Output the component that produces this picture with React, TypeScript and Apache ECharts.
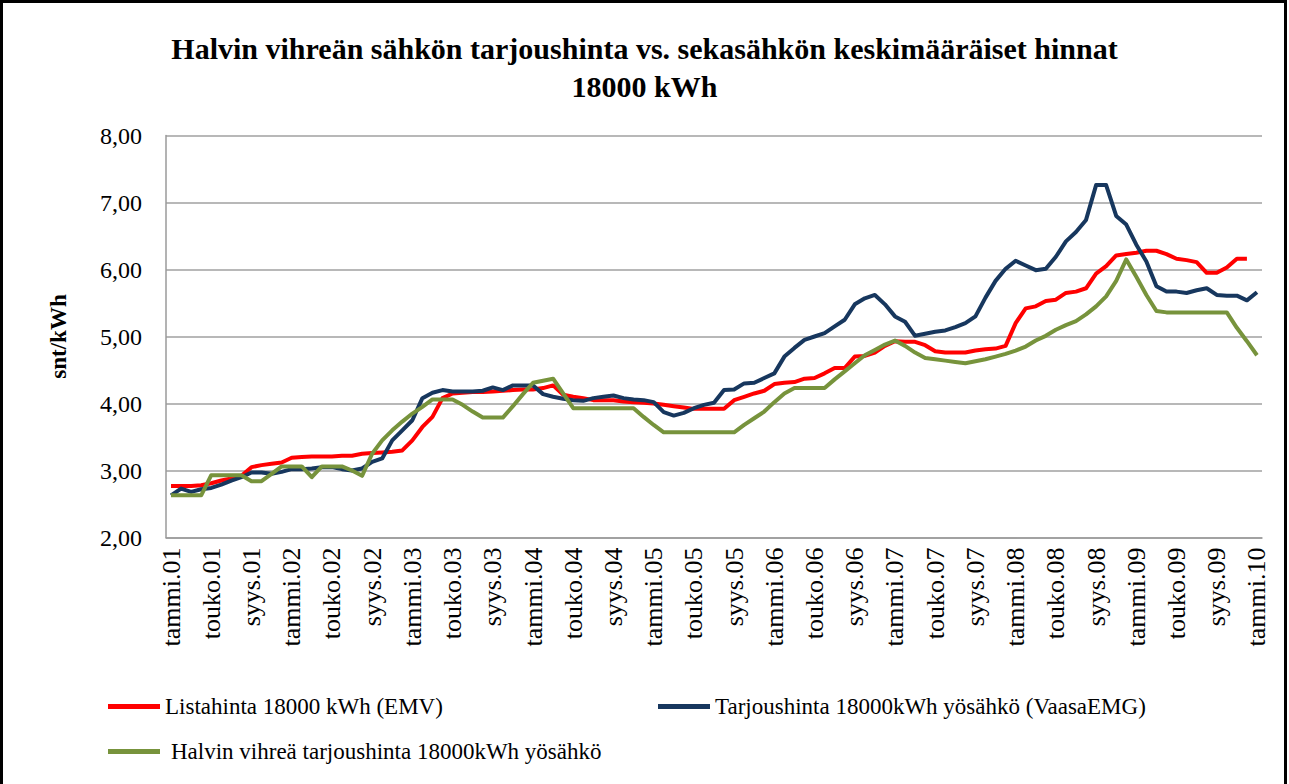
import React, { useEffect, useRef } from "react";
import * as echarts from "echarts";

const MONTHS = ["tammi", "helmi", "maalis", "huhti", "touko", "kesä", "heinä", "elo", "syys", "loka", "marras", "joulu"];
const YEARS = ["01", "02", "03", "04", "05", "06", "07", "08", "09", "10"];

const RED_NAME = "Listahinta 18000 kWh (EMV)";
const BLUE_NAME = "Tarjoushinta 18000kWh yösähkö (VaasaEMG)";
const GREEN_NAME = "Halvin vihreä tarjoushinta 18000kWh yösähkö";

const listahinta = [
  2.77, 2.77, 2.77, 2.78, 2.81, 2.85, 2.88, 2.92, 3.05, 3.08, 3.10, 3.12,
  3.19, 3.20, 3.21, 3.21, 3.21, 3.22, 3.22, 3.25, 3.26, 3.27, 3.28, 3.30,
  3.45, 3.65, 3.80, 4.08, 4.15, 4.16, 4.17, 4.17, 4.18, 4.19, 4.20, 4.21,
  4.21, 4.23, 4.27, 4.13, 4.10, 4.08, 4.05, 4.05, 4.05, 4.03, 4.02, 4.01,
  4.00, 3.98, 3.96, 3.94, 3.92, 3.92, 3.92, 3.92, 4.05, 4.10, 4.15, 4.19,
  4.29, 4.31, 4.32, 4.37, 4.38, 4.45, 4.53, 4.53, 4.70, 4.71, 4.76, 4.86,
  4.93, 4.92, 4.92, 4.87, 4.78, 4.76, 4.76, 4.76, 4.79, 4.81, 4.82, 4.86,
  5.20, 5.42, 5.45, 5.53, 5.55, 5.65, 5.67, 5.72, 5.94, 6.05, 6.21, 6.23,
  6.25, 6.28, 6.28, 6.23, 6.16, 6.14, 6.11, 5.95, 5.95, 6.03, 6.16, 6.16,
  null,
];

const tarjoushinta = [
  2.63, 2.73, 2.68, 2.72, 2.74, 2.79, 2.85, 2.90, 2.97, 2.97, 2.95, 2.98,
  3.02, 3.02, 3.03, 3.05, 3.05, 3.02, 3.00, 3.03, 3.13, 3.18, 3.45, 3.60,
  3.75, 4.08, 4.16, 4.20, 4.18, 4.18, 4.18, 4.19, 4.24, 4.20, 4.27, 4.27,
  4.27, 4.14, 4.10, 4.07, 4.05, 4.04, 4.08, 4.10, 4.12, 4.08, 4.06, 4.05,
  4.02, 3.87, 3.82, 3.86, 3.93, 3.98, 4.01, 4.20, 4.21, 4.30, 4.31, 4.38,
  4.45, 4.70, 4.83, 4.95, 5.00, 5.05, 5.15, 5.25, 5.48, 5.57, 5.62, 5.48,
  5.30, 5.22, 5.01, 5.04, 5.07, 5.09, 5.14, 5.20, 5.30, 5.58, 5.83, 6.01,
  6.13, 6.06, 5.99, 6.01, 6.19, 6.42, 6.56, 6.74, 7.26, 7.26, 6.80, 6.67,
  6.37, 6.12, 5.75, 5.67, 5.67, 5.65, 5.69, 5.72, 5.62, 5.61, 5.61, 5.54,
  5.66,
];

const vihrea = [
  2.63, 2.63, 2.63, 2.63, 2.93, 2.93, 2.93, 2.93, 2.84, 2.84, 2.95, 3.06,
  3.06, 3.06, 2.90, 3.06, 3.06, 3.06, 3.00, 2.92, 3.25, 3.45, 3.60, 3.73,
  3.85, 3.95, 4.06, 4.06, 4.06, 3.98, 3.88, 3.79, 3.79, 3.79, 3.96, 4.14,
  4.31, 4.34, 4.37, 4.15, 3.93, 3.93, 3.93, 3.93, 3.93, 3.93, 3.93, 3.80,
  3.68, 3.57, 3.57, 3.57, 3.57, 3.57, 3.57, 3.57, 3.57, 3.68, 3.78, 3.88,
  4.02, 4.15, 4.23, 4.23, 4.23, 4.23, 4.36, 4.48, 4.60, 4.72, 4.80, 4.88,
  4.94, 4.86, 4.76, 4.68, 4.66, 4.64, 4.62, 4.60, 4.63, 4.66, 4.70, 4.74,
  4.79, 4.85, 4.94, 5.01, 5.10, 5.17, 5.23, 5.33, 5.45, 5.60, 5.83, 6.15,
  5.89, 5.62, 5.38, 5.36, 5.36, 5.36, 5.36, 5.36, 5.36, 5.36, 5.13, 4.93,
  4.72,
];

const categories: string[] = [];
YEARS.forEach((y, yi) => {
  MONTHS.forEach((m, mi) => {
    if (yi < YEARS.length - 1 || mi === 0) categories.push(`${m}.${y}`);
  });
});

const FONT = "Liberation Serif";

export default function App() {
  const ref = useRef<HTMLDivElement>(null);
  useEffect(() => {
    if (!ref.current) return;
    const chart = echarts.init(ref.current, undefined, { renderer: "svg" });
    const legendBase = {
      orient: "horizontal",
      icon: "rect",
      itemWidth: 52,
      itemHeight: 5,
      padding: 0,
      textStyle: { fontFamily: FONT, fontSize: 23, color: "#000" },
    };
    chart.setOption({
      animation: false,
      backgroundColor: "#fff",
      textStyle: { fontFamily: FONT },
      title: {
        text: "Halvin vihreän sähkön tarjoushinta vs. sekasähkön keskimääräiset hinnat\n18000 kWh",
        left: "center",
        top: 24,
        textStyle: {
          fontFamily: FONT,
          fontSize: 30,
          fontWeight: "bold",
          color: "#000",
          lineHeight: 38,
        },
      },
      legend: [
        { ...legendBase, data: [RED_NAME], left: 108, top: 695 },
        { ...legendBase, data: [BLUE_NAME], left: 658, top: 695 },
        { ...legendBase, data: [GREEN_NAME], left: 108, top: 740, textStyle: { ...legendBase.textStyle, padding: [0, 0, 0, 6] } },
      ],
      grid: { left: 166, right: 27, top: 135.5, bottom: 246.5, containLabel: false },
      xAxis: {
        type: "category",
        data: categories,
        boundaryGap: true,
        axisLine: { show: true, lineStyle: { color: "#9a9a9a", width: 1.5 } },
        axisTick: { show: false },
        axisLabel: {
          interval: 3,
          rotate: 90,
          margin: 10,
          fontFamily: FONT,
          fontSize: 26,
          color: "#000",
        },
        splitLine: { show: false },
      },
      yAxis: {
        type: "value",
        min: 2,
        max: 8,
        interval: 1,
        name: "snt/kWh",
        nameLocation: "middle",
        nameGap: 96,
        nameRotate: 90,
        nameTextStyle: { fontFamily: FONT, fontSize: 23, fontWeight: "bold", color: "#000" },
        axisLine: { show: true, lineStyle: { color: "#9a9a9a", width: 1.5 } },
        axisTick: { show: false },
        axisLabel: {
          margin: 24,
          fontFamily: FONT,
          fontSize: 24,
          color: "#000",
          formatter: (v: number) => v.toFixed(2).replace(".", ","),
        },
        splitLine: { show: true, lineStyle: { color: "#a0a0a0", width: 1.5 } },
      },
      series: [
        {
          name: RED_NAME,
          type: "line",
          data: listahinta,
          showSymbol: false,
          color: "#ff0000",
          lineStyle: { color: "#ff0000", width: 4, join: "round" },
        },
        {
          name: BLUE_NAME,
          type: "line",
          data: tarjoushinta,
          showSymbol: false,
          color: "#17375e",
          lineStyle: { color: "#17375e", width: 4, join: "round" },
        },
        {
          name: GREEN_NAME,
          type: "line",
          data: vihrea,
          showSymbol: false,
          color: "#77933c",
          lineStyle: { color: "#77933c", width: 4, join: "round" },
        },
      ],
      graphic: [
        {
          type: "rect",
          shape: { x: 1.5, y: 1.5, width: 1284, height: 800 },
          style: { fill: "none", stroke: "#000", lineWidth: 3 },
          silent: true,
        },
      ],
    });
    return () => chart.dispose();
  }, []);
  return (
    <div
      ref={ref}
      style={{ position: "absolute", left: 0, top: 0, width: 1289, height: 784, background: "#fff" }}
    />
  );
}
